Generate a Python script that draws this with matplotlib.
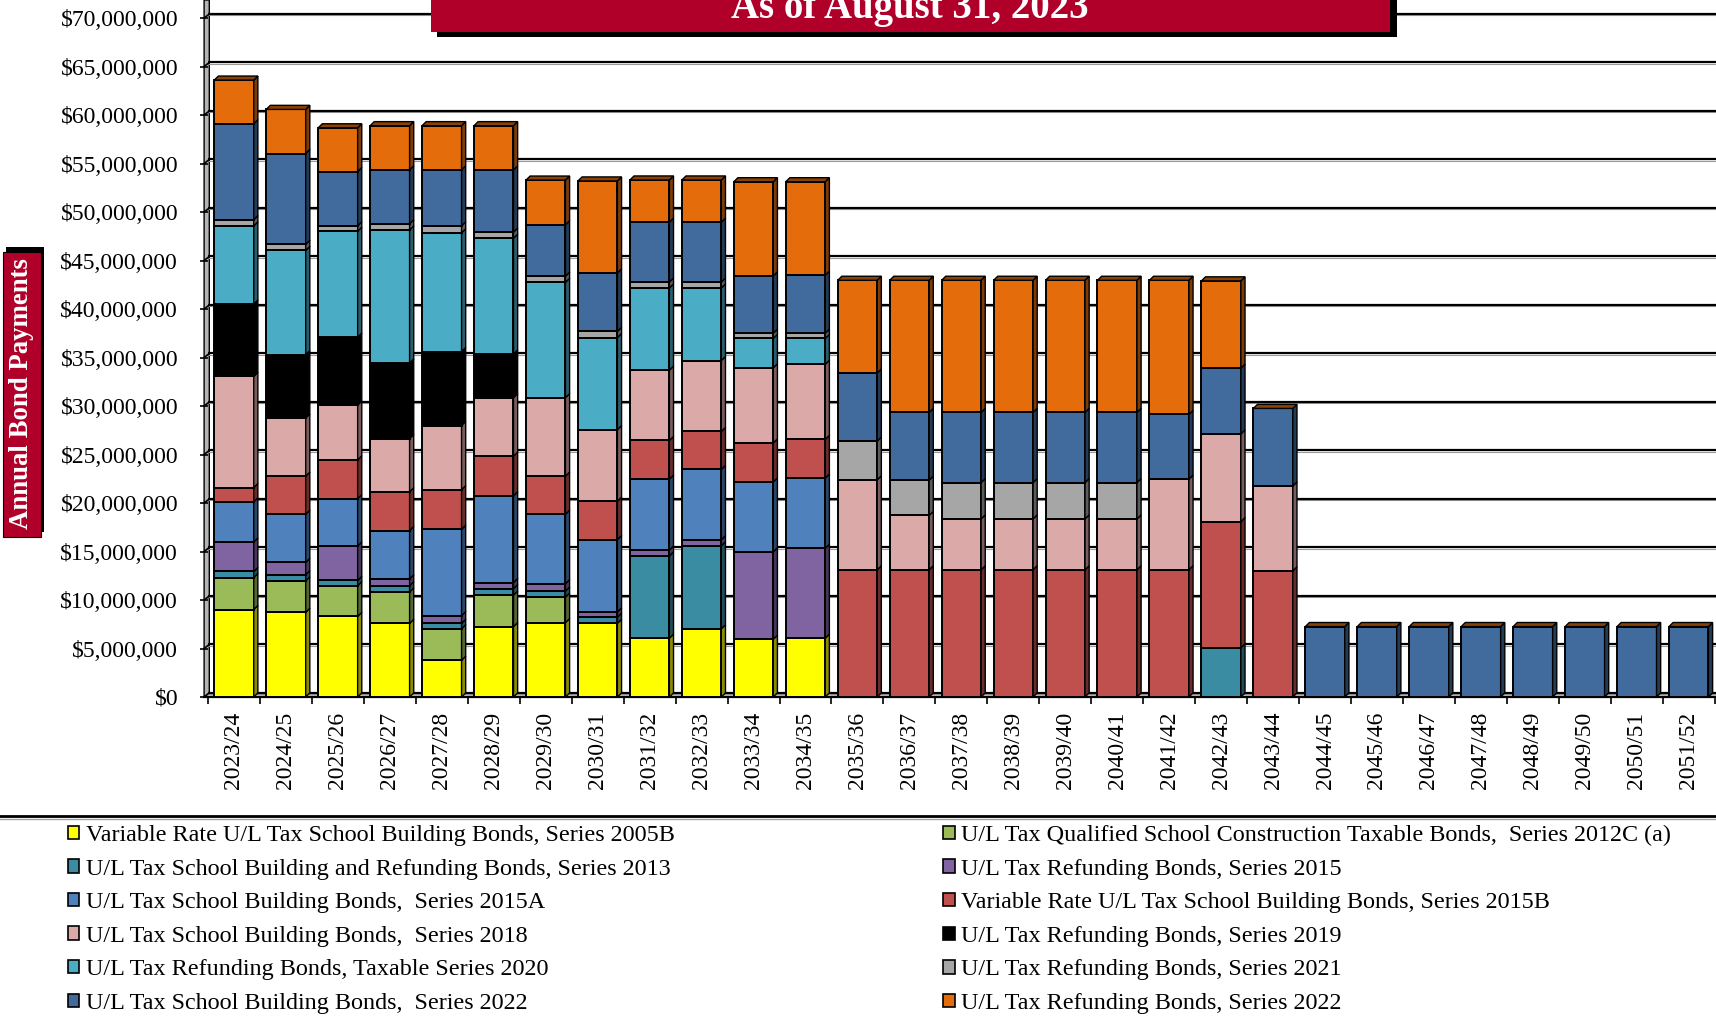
import matplotlib
matplotlib.use("Agg")
import matplotlib.pyplot as plt
from matplotlib.patches import Polygon, Rectangle, Patch
from matplotlib.lines import Line2D
import matplotlib.colors as mcolors
import numpy as np

plt.rcParams['font.family'] = ['Liberation Serif', 'DejaVu Serif']

years = ["2023/24", "2024/25", "2025/26", "2026/27", "2027/28", "2028/29",
         "2029/30", "2030/31", "2031/32", "2032/33", "2033/34", "2034/35",
         "2035/36", "2036/37", "2037/38", "2038/39", "2039/40", "2040/41",
         "2041/42", "2042/43", "2043/44", "2044/45", "2045/46", "2046/47",
         "2047/48", "2048/49", "2049/50", "2050/51", "2051/52"]

# annual payments in $ millions
s2005B = [9.02, 8.73, 8.31, 7.59, 3.79, 7.25, 7.67, 7.59, 6.06, 7.02, 5.95, 6.06,
          0, 0, 0, 0, 0, 0, 0, 0, 0, 0, 0, 0, 0, 0, 0, 0, 0]
s2012C = [3.29, 3.24, 3.16, 3.24, 3.25, 3.25, 2.62, 0, 0, 0, 0, 0,
          0, 0, 0, 0, 0, 0, 0, 0, 0, 0, 0, 0, 0, 0, 0, 0, 0]
s2013 = [0.63, 0.63, 0.55, 0.64, 0.55, 0.67, 0.63, 0.63, 8.49, 8.56, 0, 0,
         0, 0, 0, 0, 0, 0, 0, 5.07, 0, 0, 0, 0, 0, 0, 0, 0, 0]
s2015 = [3.04, 1.27, 3.54, 0.71, 0.80, 0.63, 0.76, 0.55, 0.60, 0.64, 9.02, 9.27,
         0, 0, 0, 0, 0, 0, 0, 0, 0, 0, 0, 0, 0, 0, 0, 0, 0]
s2015A = [4.13, 4.97, 4.89, 4.98, 8.90, 8.94, 7.16, 7.46, 7.31, 7.24, 7.20, 7.24,
          0, 0, 0, 0, 0, 0, 0, 0, 0, 0, 0, 0, 0, 0, 0, 0, 0]
s2015B = [1.48, 3.93, 4.00, 4.00, 4.08, 4.09, 3.93, 3.96, 3.99, 3.92, 4.03, 3.99,
          13.12, 13.12, 13.12, 13.12, 13.12, 13.12, 13.12, 13.01, 13.01,
          0, 0, 0, 0, 0, 0, 0, 0]
s2018 = [11.46, 5.98, 5.65, 5.48, 6.62, 6.03, 8.09, 7.38, 7.24, 7.31, 7.74, 7.74,
         9.27, 5.60, 5.24, 5.24, 5.24, 5.24, 9.34, 9.04, 8.74,
         0, 0, 0, 0, 0, 0, 0, 0]
s2019 = [7.46, 6.54, 7.00, 7.80, 7.63, 4.51, 0, 0, 0, 0, 0, 0,
         0, 0, 0, 0, 0, 0, 0, 0, 0, 0, 0, 0, 0, 0, 0, 0, 0]
s2020 = [8.06, 10.75, 10.92, 13.71, 12.23, 11.93, 11.89, 9.49, 8.48, 7.48, 3.03, 2.67,
         0, 0, 0, 0, 0, 0, 0, 0, 0, 0, 0, 0, 0, 0, 0, 0, 0]
s2021 = [0.63, 0.63, 0.55, 0.63, 0.72, 0.63, 0.63, 0.63, 0.61, 0.61, 0.53, 0.53,
         3.99, 3.63, 3.74, 3.74, 3.74, 3.74, 0, 0, 0,
         0, 0, 0, 0, 0, 0, 0, 0]
s2022 = [9.90, 9.36, 5.60, 5.56, 5.77, 6.41, 5.31, 6.03, 6.17, 6.17, 5.92, 5.99,
         7.02, 6.99, 7.24, 7.24, 7.24, 7.24, 6.67, 6.78, 8.00,
         7.26, 7.26, 7.26, 7.26, 7.26, 7.26, 7.26, 7.26]
s2022R = [4.50, 4.55, 4.51, 4.56, 4.56, 4.56, 4.60, 9.48, 4.35, 4.35, 9.70, 9.63,
          9.56, 13.62, 13.62, 13.62, 13.62, 13.62, 13.83, 9.00, 0,
          0, 0, 0, 0, 0, 0, 0, 0]

series = [s2005B, s2012C, s2013, s2015, s2015A, s2015B,
          s2018, s2019, s2020, s2021, s2022, s2022R]
labels = ["Variable Rate U/L Tax School Building Bonds, Series 2005B",
          "U/L Tax Qualified School Construction Taxable Bonds,  Series 2012C (a)",
          "U/L Tax School Building and Refunding Bonds, Series 2013",
          "U/L Tax Refunding Bonds, Series 2015",
          "U/L Tax School Building Bonds,  Series 2015A",
          "Variable Rate U/L Tax School Building Bonds, Series 2015B",
          "U/L Tax School Building Bonds,  Series 2018",
          "U/L Tax Refunding Bonds, Series 2019",
          "U/L Tax Refunding Bonds, Taxable Series 2020",
          "U/L Tax Refunding Bonds, Series 2021",
          "U/L Tax School Building Bonds,  Series 2022",
          "U/L Tax Refunding Bonds, Series 2022"]
colors = ["#FFFF00", "#9BBB59", "#3A8CA2", "#8064A2", "#4F81BD", "#C0504D",
          "#DBA9A8", "#000000", "#4BACC6", "#A6A6A6", "#416B9C", "#E46C0A"]

W = 0.76      # bar width
DX = 0.08     # 3d depth, x
DY = 0.42     # 3d depth, y ($M)
YTOP = 71.86
RED = "#B0002A"

FW, FH = 1716, 1018
fig = plt.figure(figsize=(FW / 100, FH / 100), dpi=100)
ax = fig.add_axes([208 / FW, (FH - 697) / FH, (FW - 208) / FW, 697 / FH])
ax.set_xlim(-0.475, 28.525)
ax.set_ylim(0, YTOP)
for sp in ax.spines.values():
    sp.set_visible(False)

x = np.arange(len(years))

# back wall, floor, gridlines
ax.add_patch(Polygon([(-0.575, 0), (-0.475, DY), (-0.475, YTOP), (-0.575, YTOP)],
                     closed=True, facecolor="#B4B4B4", edgecolor="black", lw=1,
                     clip_on=False, zorder=0.5))
ax.add_patch(Polygon([(-0.575, 0), (29.5, 0), (29.5, DY), (-0.475, DY)],
                     closed=True, facecolor="#C8C8C8", edgecolor="none", zorder=0.6))
for v in range(0, 75, 5):
    ax.plot([-0.475, 29.5], [v + DY, v + DY], color="black", lw=1.6, zorder=1)
    ax.plot([-0.475, 29.5], [v + DY - 0.12, v + DY - 0.12], color="#9A9A9A", lw=0.8, zorder=0.9)
    ax.plot([-0.575, -0.475], [v, v + DY], color="black", lw=1.2, zorder=1, clip_on=False)
ax.plot([-0.575, 29.5], [0, 0], color="black", lw=1.6, zorder=2, clip_on=False)

# stacked 3d bars
bottom = np.zeros(len(years))
for vals, col in zip(series, colors):
    vals = np.array(vals)
    ax.bar(x, vals, W, bottom=bottom, color=col, edgecolor="black", lw=1.4, zorder=3)
    dark = tuple(c * 0.55 for c in mcolors.to_rgb(col))
    for i in range(len(years)):
        if vals[i] <= 0:
            continue
        y0, y1 = bottom[i], bottom[i] + vals[i]
        xr = x[i] + W / 2
        ax.add_patch(Polygon([(xr, y0), (xr + DX, y0 + DY), (xr + DX, y1 + DY), (xr, y1)],
                             closed=True, facecolor=dark, edgecolor="black", lw=1.0, zorder=3))
    bottom = bottom + vals

top_col = tuple(c * 0.6 for c in mcolors.to_rgb(colors[-1]))
for i in range(len(years)):
    t = bottom[i]
    xl, xr = x[i] - W / 2, x[i] + W / 2
    ax.add_patch(Polygon([(xl, t), (xl + DX, t + DY), (xr + DX, t + DY), (xr, t)],
                         closed=True, facecolor=top_col, edgecolor="black", lw=1.0, zorder=3))

# axes ticks
yt = np.arange(0, 75, 5)
ax.set_yticks(yt)
ax.set_yticklabels([f"${v * 1000000:,.0f}" for v in yt])
ax.tick_params(axis="y", direction="out", length=6, width=1.2, pad=15.5, labelsize=17)
ax.set_xticks(x)
ax.set_xticklabels(years, rotation=90)
ax.tick_params(axis="x", which="major", length=0, pad=10.6, labelsize=17)
ax.set_xticks(np.arange(-0.5, 29, 1), minor=True)
ax.tick_params(axis="x", which="minor", direction="out", length=5, width=1.2)


def fx(px):
    return px / FW


def fy(py):
    return 1 - py / FH


# title box (cropped at top)
fig.patches.append(Rectangle((fx(437), fy(36.7)), fx(1397) - fx(437), fy(-20) - fy(36.7),
                             transform=fig.transFigure, facecolor="black", edgecolor="none", zorder=5))
fig.patches.append(Rectangle((fx(431), fy(31.7)), fx(1390) - fx(431), fy(-20) - fy(31.7),
                             transform=fig.transFigure, facecolor=RED, edgecolor="none", zorder=6))
fig.text(fx(910), fy(18.3), "As of August 31, 2023", color="white", fontsize=28,
         fontweight="bold", ha="center", va="baseline", zorder=7)

# y axis title box
fig.patches.append(Rectangle((fx(6), fy(532.4)), fx(44) - fx(6), fy(247.4) - fy(532.4),
                             transform=fig.transFigure, facecolor="black", edgecolor="none", zorder=5))
fig.patches.append(Rectangle((fx(2.7), fy(536.7)), fx(40.7) - fx(2.7), fy(251.7) - fy(536.7),
                             transform=fig.transFigure, facecolor=RED, edgecolor="black", lw=0.8, zorder=6))
fig.text(fx(21.7), fy(394), "Annual Bond Payments", color="white", fontsize=19.3,
         fontweight="bold", rotation=90, ha="center", va="center", zorder=7)

# legend separator
fig.lines.append(Line2D([0, 1], [fy(816), fy(816)], transform=fig.transFigure,
                        color="black", lw=2))
fig.lines.append(Line2D([0, 1], [fy(818.5), fy(818.5)], transform=fig.transFigure,
                        color="#A0A0A0", lw=1))

handles = [Patch(facecolor=c, edgecolor="black", lw=1.2) for c in colors]
for col, xpos in [(0, 67.7), (1, 943)]:
    idx = list(range(col, 12, 2))
    fig.legend([handles[k] for k in idx], [labels[k] for k in idx],
               loc="upper left", bbox_to_anchor=(fx(xpos), fy(825)),
               frameon=False, borderpad=0, borderaxespad=0, fontsize=17.4,
               handlelength=0.48, handleheight=0.48, handletextpad=0.28,
               labelspacing=0.52)

fig.savefig("out.png", dpi=100)
